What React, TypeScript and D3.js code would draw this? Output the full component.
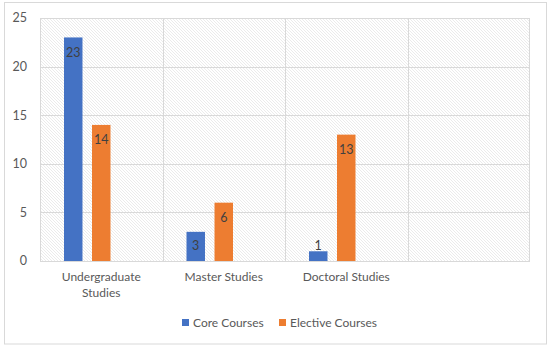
import React from 'react';
import * as d3 from 'd3';

// chart data
const categories = ['Undergraduate Studies', 'Master Studies', 'Doctoral Studies', ''];
const coreCourses = [23, 3, 1, null];
const electiveCourses = [14, 6, 13, null];
// third series slot is empty in the source sheet
const seriesSlots = ['Core Courses', 'Elective Courses', ''];
const yTicks = [0, 5, 10, 15, 20, 25];

const series = [
  { name: 'Core Courses', values: coreCourses, color: '#4472C4' },
  { name: 'Elective Courses', values: electiveCourses, color: '#ED7D31' },
];

const W = 550;
const H = 348;
const margin = { top: 18, right: 20, bottom: 87, left: 40 };
const font = 'Lato, "Open Sans", sans-serif';
const fs = 12;

export default function App() {
  const plotW = W - margin.left - margin.right;
  const plotH = H - margin.top - margin.bottom;

  const x = d3.scaleBand<string>()
    .domain(categories.map((c, i) => String(i)))
    .range([0, plotW])
    .padding(0);
  const xInner = d3.scaleBand<string>()
    .domain(seriesSlots.map((s, i) => String(i)))
    .range([0, x.bandwidth()])
    .paddingInner(0.34)
    .paddingOuter(0.857);
  const y = d3.scaleLinear().domain([0, 25]).range([plotH, 0]);

  const lines = (label: string) => {
    if (label === 'Undergraduate Studies') return ['Undergraduate', 'Studies'];
    return [label];
  };

  return (
    <svg width={W} height={H} style={{ position: 'absolute', left: 0, top: 0 }}>
      <defs>
        <pattern id="hatch" width="3" height="3" patternUnits="userSpaceOnUse">
          <rect width="3" height="3" fill="#ffffff" />
          <path d="M-1,-1 L4,4 M-1,2 L1,4 M2,-1 L4,1" stroke="#e2e2e2" strokeWidth="0.7" />
        </pattern>
      </defs>
      <rect x={4.5} y={2.5} width={542} height={341.5} fill="#fff" stroke="#d9d9d9" />
      <g transform={`translate(${margin.left},${margin.top})`}>
        <rect x={0} y={0} width={plotW} height={plotH} fill="url(#hatch)" />
        {yTicks.map(t => (
          <g key={t}>
            <line x1={0} x2={plotW} y1={Math.round(y(t)) + 0.5} y2={Math.round(y(t)) + 0.5} stroke="#d9d9d9" />
            <text x={-13} y={y(t)} dy="0.35em" textAnchor="end" fontFamily={font} fontSize={fs + 0.5} fill="#595959">{t}</text>
          </g>
        ))}
        {categories.map((c, i) => (
          <line key={'v' + i} x1={Math.round(x(String(i))!) + 0.5} x2={Math.round(x(String(i))!) + 0.5} y1={0} y2={plotH} stroke="#d9d9d9" />
        ))}
        <line x1={plotW - 0.5} x2={plotW - 0.5} y1={0} y2={plotH} stroke="#d9d9d9" />
        {series.map((s, si) => s.values.map((v, ci) => {
          if (v == null) return null;
          const bx = x(String(ci))! + xInner(String(si))!;
          const by = y(v);
          const ly = Math.min(by + 15, y(0) - 15);
          return (
            <g key={s.name + ci}>
              <rect x={bx} y={by} width={xInner.bandwidth()} height={y(0) - by} fill={s.color} />
              <text x={bx + xInner.bandwidth() / 2} y={ly} dy="0.35em" textAnchor="middle" fontFamily={font} fontSize={fs + 0.5} fill="#404040">{v}</text>
            </g>
          );
        }))}
        <line x1={0} x2={plotW} y1={plotH + 0.5} y2={plotH + 0.5} stroke="#d9d9d9" />
        {categories.map((c, i) => (
          <text key={'c' + i} x={x(String(i))! + x.bandwidth() / 2} y={plotH + 16} textAnchor="middle" fontFamily={font} fontSize={fs} fill="#595959">
            {lines(c).map((l, li) => (
              <tspan key={li} x={x(String(i))! + x.bandwidth() / 2} dy={li === 0 ? '0.35em' : 16}>{l}</tspan>
            ))}
          </text>
        ))}
      </g>
      <g transform="translate(182,319)">
        <rect x={0} y={0} width={7} height={7} fill={series[0].color} />
        <text x={11} y={3.5} dy="0.35em" fontFamily={font} fontSize={fs} fill="#595959">{series[0].name}</text>
        <rect x={97} y={0} width={7} height={7} fill={series[1].color} />
        <text x={108} y={3.5} dy="0.35em" fontFamily={font} fontSize={fs} fill="#595959">{series[1].name}</text>
      </g>
    </svg>
  );
}
